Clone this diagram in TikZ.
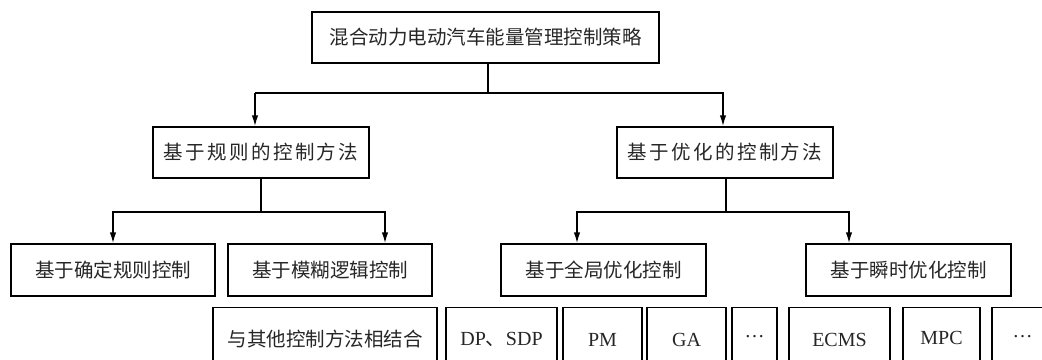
\documentclass[tikz,border=0pt]{standalone}
\usepackage{fontspec}
\setmainfont{Liberation Serif}
\newfontfamily\cjk{Noto Sans CJK SC}
\usetikzlibrary{arrows.meta}
\newcommand\hs{\hspace{2.4pt}}
\begin{document}
\begin{tikzpicture}[x=1pt,y=-1pt,
  box/.style={draw=black, line width=1.4pt, rectangle, inner sep=0pt, text=black!85,
    font=\cjk\fontsize{19.5}{22}\selectfont},
  latbox/.style={box, font=\fontsize{20}{22}\selectfont},
  conn/.style={line width=1.5pt},
  arr/.style={conn, -{Latex[length=11pt,width=6.5pt]}}]
\useasboundingbox (0,0) rectangle (1042,359);
\clip (0,0) rectangle (1042,359);
% level 1
\node[box, minimum width=347pt, minimum height=51pt] (top) at (485.5,37.5) {混合动力电动汽车能量管理控制策略};
% level 2
\node[box, minimum width=216pt, minimum height=51pt] (rule) at (261,152.5) {基\hs 于\hs 规\hs 则\hs 的\hs 控\hs 制\hs 方\hs 法};
\node[box, minimum width=216pt, minimum height=51pt] (opt) at (725,152.5) {基\hs 于\hs 优\hs 化\hs 的\hs 控\hs 制\hs 方\hs 法};
% level 3
\node[box, minimum width=204pt, minimum height=52pt] (det) at (113,270) {基于确定规则控制};
\node[box, minimum width=204pt, minimum height=52pt] (fuzzy) at (330,270) {基于模糊逻辑控制};
\node[box, minimum width=205pt, minimum height=52pt] (glob) at (603.5,270) {基于全局优化控制};
\node[box, minimum width=205pt, minimum height=52pt] (inst) at (908.5,270) {基于瞬时优化控制};
% level 4 (cut off at bottom)
\node[box, minimum width=224pt, minimum height=64pt] (comb) at (325,339.5) {与其他控制方法相结合};
\node[latbox, minimum width=111pt, minimum height=64pt] (dp) at (501.5,339.5) {DP{\cjk 、}SDP};
\node[latbox, minimum width=79pt, minimum height=64pt] (pm) at (602.5,339.5) {PM};
\node[latbox, minimum width=79pt, minimum height=64pt] (ga) at (686.5,339.5) {GA};
\node[latbox, minimum width=45pt, minimum height=64pt] (dots1) at (754.5,339.5) {\raisebox{0.3em}{…}};
\node[latbox, minimum width=101pt, minimum height=64pt] (ecms) at (839.5,339.5) {ECMS};
\node[latbox, minimum width=77pt, minimum height=64pt] (mpc) at (941.5,339.5) {\raisebox{0.15em}{MPC}};
\node[latbox, minimum width=70pt, minimum height=64pt] (dots2) at (1027,339.5) {\hspace*{-9pt}\raisebox{0.3em}{…}};
% connectors
\coordinate (j1) at (488,93);
\coordinate (j2) at (261,212);
\coordinate (j3) at (726,212);
\draw[conn] (top.south -| j1) -- (j1);
\draw[arr] (255,93) -- ([xshift=-6pt]rule.north);
\draw[arr] (255,93) -- (j1) -| ([xshift=-2pt]opt.north);
\draw[conn] (rule.south) -- (j2);
\draw[arr] (j2) -| (det.north);
\draw[arr] (j2) -| ([xshift=55pt]fuzzy.north);
\draw[conn] (opt.south -| j3) -- (j3);
\draw[arr] (j3) -| ([xshift=-26.5pt]glob.north);
\draw[arr] (j3) -| ([xshift=-59.5pt]inst.north);
\end{tikzpicture}
\end{document}
